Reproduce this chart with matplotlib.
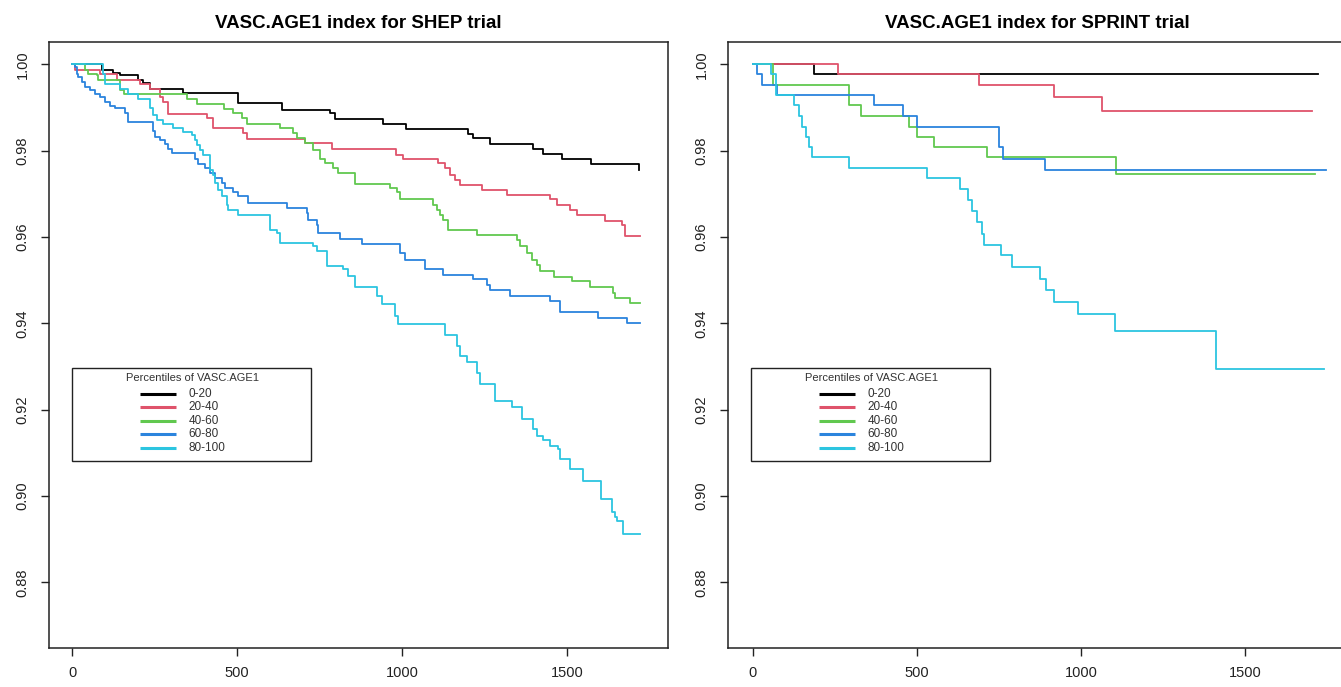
import matplotlib
matplotlib.use("Agg")
import matplotlib.pyplot as plt
from matplotlib.patches import Rectangle

plt.rcParams['font.family'] = ['Liberation Sans', 'DejaVu Sans']

GROUPS = ["0-20", "20-40", "40-60", "60-80", "80-100"]
COLORS = ["#000000", "#DF536B", "#61C84F", "#2B84DD", "#2CC5E0"]
LEGEND_TITLE = "Percentiles of VASC.AGE1"

# SHEP trial, survival step curves (days, survival)
shep_t_0_20 = [0, 90, 125, 145, 201, 216, 236, 337, 504, 635, 782, 797, 943, 1012, 1200, 1216, 1267, 1398, 1428, 1484, 1572, 1719]
shep_s_0_20 = [1.0, 0.9988, 0.9981, 0.9975, 0.9963, 0.9956, 0.9942, 0.9933, 0.9910, 0.9895, 0.9887, 0.9873, 0.9863, 0.9850, 0.9838, 0.9829, 0.9815, 0.9804, 0.9792, 0.9781, 0.9769, 0.9755]

shep_t_20_40 = [0, 9, 85, 135, 206, 236, 267, 277, 292, 408, 428, 519, 529, 706, 787, 982, 1004, 1110, 1130, 1145, 1161, 1176, 1241, 1317, 1448, 1469, 1509, 1529, 1615, 1666, 1676, 1721]
shep_s_20_40 = [1.0, 0.9988, 0.9978, 0.9965, 0.9955, 0.9942, 0.9925, 0.9913, 0.9886, 0.9875, 0.9852, 0.9840, 0.9827, 0.9817, 0.9804, 0.9790, 0.9781, 0.9771, 0.9759, 0.9744, 0.9732, 0.9721, 0.9709, 0.9698, 0.9688, 0.9675, 0.9663, 0.9650, 0.9638, 0.9629, 0.9602, 0.9602]

shep_t_40_60 = [0, 39, 49, 75, 80, 145, 156, 347, 378, 459, 489, 514, 529, 630, 671, 681, 706, 731, 752, 767, 792, 807, 858, 964, 984, 994, 1095, 1105, 1115, 1125, 1140, 1226, 1348, 1358, 1378, 1393, 1408, 1418, 1459, 1514, 1570, 1640, 1645, 1691, 1721]
shep_s_40_60 = [1.0, 0.9988, 0.9978, 0.9975, 0.9965, 0.9940, 0.9931, 0.9919, 0.9909, 0.9896, 0.9888, 0.9875, 0.9863, 0.9852, 0.9842, 0.9829, 0.9817, 0.9802, 0.9782, 0.9771, 0.9759, 0.9748, 0.9723, 0.9713, 0.9705, 0.9688, 0.9675, 0.9663, 0.9652, 0.9640, 0.9617, 0.9605, 0.9594, 0.9579, 0.9563, 0.9548, 0.9536, 0.9521, 0.9508, 0.9498, 0.9485, 0.9471, 0.9459, 0.9448, 0.9448]

shep_t_60_80 = [0, 9, 14, 19, 29, 39, 55, 70, 85, 100, 115, 130, 161, 171, 246, 252, 267, 282, 292, 302, 373, 383, 403, 418, 433, 454, 464, 489, 504, 534, 650, 711, 716, 741, 746, 812, 880, 994, 1009, 1070, 1125, 1216, 1257, 1267, 1327, 1448, 1479, 1595, 1681, 1721]
shep_s_60_80 = [1.0, 0.9994, 0.9978, 0.9971, 0.9959, 0.9948, 0.9940, 0.9932, 0.9925, 0.9913, 0.9904, 0.9898, 0.9888, 0.9867, 0.9846, 0.9831, 0.9825, 0.9815, 0.9805, 0.9794, 0.9782, 0.9769, 0.9761, 0.9748, 0.9736, 0.9725, 0.9713, 0.9705, 0.9694, 0.9679, 0.9667, 0.9656, 0.9640, 0.9629, 0.9609, 0.9596, 0.9585, 0.9563, 0.9548, 0.9525, 0.9513, 0.9502, 0.9488, 0.9477, 0.9463, 0.9452, 0.9426, 0.9413, 0.9402, 0.9402]

shep_t_80_100 = [0, 95, 100, 145, 171, 201, 236, 246, 257, 277, 307, 337, 363, 373, 378, 388, 398, 418, 428, 433, 443, 454, 469, 474, 504, 600, 620, 630, 731, 741, 772, 822, 837, 858, 923, 938, 979, 989, 1130, 1166, 1176, 1196, 1226, 1236, 1282, 1332, 1363, 1398, 1408, 1428, 1448, 1474, 1479, 1509, 1549, 1602, 1635, 1645, 1650, 1671, 1721]
shep_s_80_100 = [1.0, 0.9978, 0.9955, 0.9942, 0.9931, 0.9919, 0.9898, 0.9882, 0.9871, 0.9863, 0.9852, 0.9844, 0.9836, 0.9825, 0.9813, 0.9802, 0.9790, 0.9755, 0.9744, 0.9725, 0.9709, 0.9694, 0.9675, 0.9663, 0.9652, 0.9617, 0.9610, 0.9587, 0.9579, 0.9567, 0.9532, 0.9525, 0.9509, 0.9485, 0.9463, 0.9446, 0.9417, 0.9398, 0.9372, 0.9348, 0.9325, 0.9310, 0.9286, 0.9259, 0.9221, 0.9206, 0.9179, 0.9156, 0.9140, 0.9129, 0.9117, 0.9110, 0.9086, 0.9063, 0.9034, 0.8994, 0.8963, 0.8952, 0.8942, 0.8913, 0.8913]

# SPRINT trial
sprint_t_0_20 = [0, 185, 1723]
sprint_s_0_20 = [1.0, 0.9977, 0.9977]

sprint_t_20_40 = [0, 258, 690, 917, 1065, 1705]
sprint_s_20_40 = [1.0, 0.9977, 0.9952, 0.9925, 0.9891, 0.9891]

sprint_t_40_60 = [0, 62, 292, 328, 476, 501, 552, 715, 1108, 1715]
sprint_s_40_60 = [1.0, 0.9952, 0.9906, 0.9881, 0.9856, 0.9833, 0.9809, 0.9785, 0.9745, 0.9745]

sprint_t_60_80 = [0, 13, 28, 73, 370, 458, 499, 749, 761, 892, 1746]
sprint_s_60_80 = [1.0, 0.9977, 0.9952, 0.9929, 0.9905, 0.9881, 0.9856, 0.9809, 0.9782, 0.9755, 0.9755]

sprint_t_80_100 = [0, 55, 70, 126, 140, 150, 163, 172, 180, 294, 530, 630, 655, 667, 684, 698, 704, 755, 789, 875, 894, 919, 991, 1105, 1412, 1741]
sprint_s_80_100 = [1.0, 0.9977, 0.9929, 0.9906, 0.9881, 0.9856, 0.9833, 0.9809, 0.9785, 0.9761, 0.9738, 0.9712, 0.9685, 0.9661, 0.9636, 0.9607, 0.9582, 0.9558, 0.9531, 0.9504, 0.9477, 0.9450, 0.9422, 0.9383, 0.9295, 0.9295]

SHEP = [(shep_t_0_20, shep_s_0_20), (shep_t_20_40, shep_s_20_40), (shep_t_40_60, shep_s_40_60),
        (shep_t_60_80, shep_s_60_80), (shep_t_80_100, shep_s_80_100)]
SPRINT = [(sprint_t_0_20, sprint_s_0_20), (sprint_t_20_40, sprint_s_20_40), (sprint_t_40_60, sprint_s_40_60),
          (sprint_t_60_80, sprint_s_60_80), (sprint_t_80_100, sprint_s_80_100)]

Y_TICKS = [0.88, 0.90, 0.92, 0.94, 0.96, 0.98, 1.00]
X_TICKS = [0, 500, 1000, 1500]


def draw_legend(ax, width_frac):
    # R style legend box drawn in axes coordinates (width given for a 620 px wide axes)
    k = 0.4614 / width_frac
    ax.add_patch(Rectangle((0.037 * k, 0.309), 0.387 * k, 0.153, transform=ax.transAxes,
                           fill=False, edgecolor="#222222", lw=1.0, zorder=5))
    ax.text(0.232 * k, 0.4455, LEGEND_TITLE, transform=ax.transAxes, ha="center", va="center",
            fontsize=8, color="#333333")
    for i, (lab, col) in enumerate(zip(GROUPS, COLORS)):
        y = 0.419 - i * 0.0221
        ax.plot([0.147 * k, 0.205 * k], [y, y], transform=ax.transAxes, color=col, lw=2.2,
                solid_capstyle="butt")
        ax.text(0.226 * k, y, lab, transform=ax.transAxes, ha="left", va="center",
                fontsize=8.5, color="#333333")


def draw_panel(ax, series, title, xlim, width_frac):
    for (t, s), col in zip(series, COLORS):
        ax.step(t, s, where="post", color=col, lw=1.3)
    ax.set_xlim(*xlim)
    ax.set_ylim(0.8648, 1.0052)
    ax.set_xticks(X_TICKS)
    ax.set_xticklabels([str(v) for v in X_TICKS])
    ax.set_yticks(Y_TICKS)
    ax.set_yticklabels([f"{v:.2f}" for v in Y_TICKS], rotation=90, va="center")
    ax.tick_params(axis="both", length=6, width=1.0, labelsize=10.5, colors="#222222")
    ax.tick_params(axis="x", pad=7)
    ax.tick_params(axis="y", pad=8)
    for sp in ax.spines.values():
        sp.set_linewidth(1.1)
        sp.set_color("#222222")
    ax.set_title(title, fontsize=13.5, fontweight="bold", pad=10)
    draw_legend(ax, width_frac)


fig = plt.figure(figsize=(13.41, 6.87), dpi=100)
ax1 = fig.add_axes([0.0365, 0.0568, 0.4614, 0.8821])
ax2 = fig.add_axes([0.5429, 0.0568, 0.4610, 0.8821])

draw_panel(ax1, SHEP, "VASC.AGE1 index for SHEP trial", (-70, 1805), 0.4614)
draw_panel(ax2, SPRINT, "VASC.AGE1 index for SPRINT trial", (-76, 1809), 0.4610)

fig.savefig("out.png", dpi=100)
